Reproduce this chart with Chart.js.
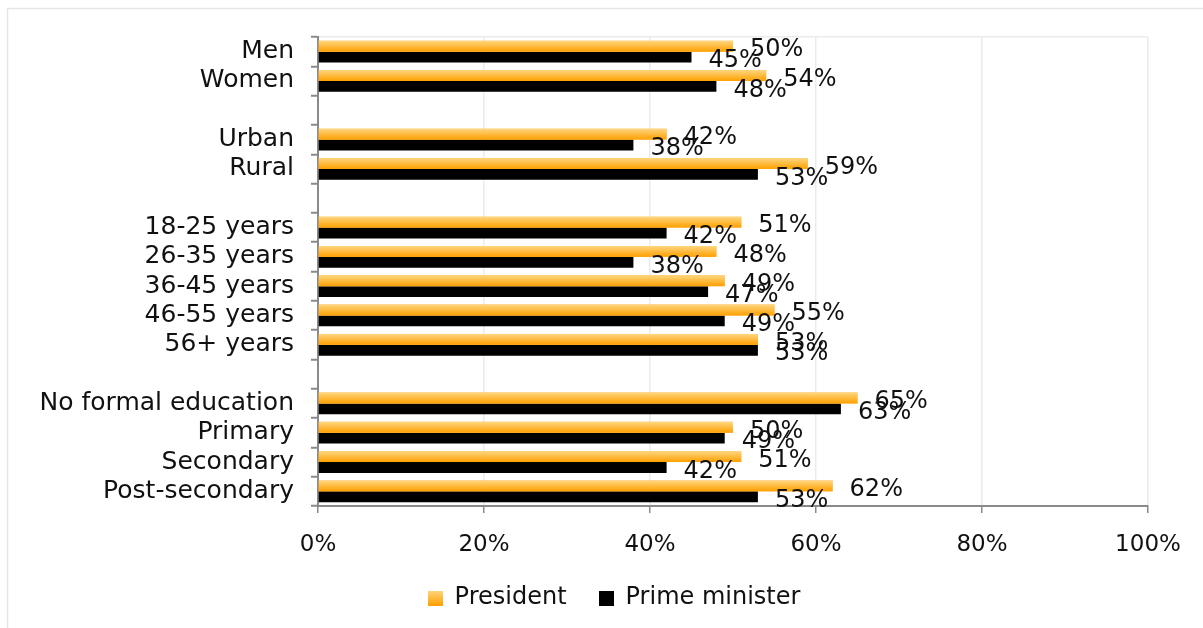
<!DOCTYPE html>
<html><head><meta charset="utf-8">
<script src="https://cdn.jsdelivr.net/npm/chart.js@4"></script>
<style>html,body{margin:0;padding:0;background:#fff}#wrap{position:relative;width:1203px;height:628px}</style>
</head><body><div id="wrap"><canvas id="c" width="1203" height="628"></canvas></div>
<script>
const categories = ["Men","Women","","Urban","Rural","","18-25 years","26-35 years","36-45 years","46-55 years","56+ years","","No formal education","Primary","Secondary","Post-secondary"];
const president = [50,54,null,42,59,null,51,48,49,55,53,null,65,50,51,62];
const primeMinister = [45,48,null,38,53,null,42,38,47,49,53,null,63,49,42,53];
const xTicks = [0,20,40,60,80,100];

const FONT = "'DejaVu Sans', sans-serif";
const AX = '#8a8a8a';

function swatch(kind){
  const c = document.createElement('canvas'); c.width = 15; c.height = 15;
  const g = c.getContext('2d');
  if (kind === 'grad') {
    const gr = g.createLinearGradient(0,0,0,15);
    gr.addColorStop(0,'#ffd680'); gr.addColorStop(1,'#ffa000');
    g.fillStyle = gr;
  } else g.fillStyle = '#000';
  g.fillRect(0,0,15,15);
  return c;
}

const frame = {
  id:'frame',
  beforeDraw(chart){
    const ctx = chart.ctx; ctx.save();
    ctx.strokeStyle = '#e6e6e6'; ctx.lineWidth = 1.5;
    ctx.strokeRect(7.5,8.5,1300,700);
    ctx.restore();
    if (!chart.$legendShifted && chart.legend) {
      chart.legend.left += 40; chart.legend.right += 40;
      chart.$legendShifted = true;
    }
  }
};

const gradBars = {
  id:'gradBars',
  afterDatasetDraw(chart, args){
    if (args.index !== 0) return;
    const ctx = chart.ctx; ctx.save();
    args.meta.data.forEach((el,i)=>{
      if (president[i] == null) return;
      const top = el.y - el.height/2, bot = el.y + el.height/2;
      const gr = ctx.createLinearGradient(0,top,0,bot);
      gr.addColorStop(0,'#ffd680'); gr.addColorStop(1,'#ffa000');
      ctx.fillStyle = gr;
      ctx.fillRect(el.base, top, el.x - el.base, el.height);
    });
    ctx.restore();
  }
};

const valueLabels = {
  id:'valueLabels',
  afterDatasetsDraw(chart){
    const ctx = chart.ctx; ctx.save();
    ctx.font = '24px ' + FONT; ctx.fillStyle = '#111';
    ctx.textAlign = 'left'; ctx.textBaseline = 'middle';
    chart.data.datasets.forEach((ds,di)=>{
      chart.getDatasetMeta(di).data.forEach((el,i)=>{
        const v = ds.data[i]; if (v == null) return;
        ctx.fillText(v + '%', el.x + 17, el.y + 4);
      });
    });
    ctx.restore();
  }
};

new Chart(document.getElementById('c'), {
  type:'bar',
  data:{
    labels:categories,
    datasets:[
      {label:'President', data:president, backgroundColor:'#ffb840', pointStyle:swatch('grad'), categoryPercentage:0.74, barPercentage:1},
      {label:'Prime minister', data:primeMinister, backgroundColor:'#000', pointStyle:swatch('black'), categoryPercentage:0.74, barPercentage:1}
    ]
  },
  options:{
    indexAxis:'y', responsive:false, animation:false, devicePixelRatio:1,
    layout:{padding:{top:37,right:55,left:0,bottom:8}},
    plugins:{
      legend:{position:'bottom', labels:{usePointStyle:true, font:{family:FONT,size:24}, color:'#111', padding:32, boxWidth:15, boxHeight:15}},
      tooltip:{enabled:false}
    },
    scales:{
      x:{
        min:0, max:100,
        afterBuildTicks(s){ s.ticks = xTicks.map(v=>({value:v})); },
        ticks:{callback:v=>v+'%', font:{family:FONT,size:23}, color:'#111', padding:18, maxRotation:0},
        grid:{color:'#ebebeb', lineWidth:1.5, tickColor:AX, tickLength:7},
        border:{color:AX, width:2},
        afterFit(s){ s.height = 48; }
      },
      y:{
        offset:true,
        ticks:{font:{family:FONT,size:25}, color:'#111', padding:17, autoSkip:false},
        grid:{offset:true, color:(c)=> c.index===0 ? '#ebebeb' : 'rgba(0,0,0,0)', lineWidth:1.5, tickColor:AX, tickLength:7, tickWidth:2},
        border:{color:AX, width:2},
        afterFit(s){ s.width = 318; }
      }
    }
  },
  plugins:[frame, gradBars, valueLabels]
});
</script></body></html>
